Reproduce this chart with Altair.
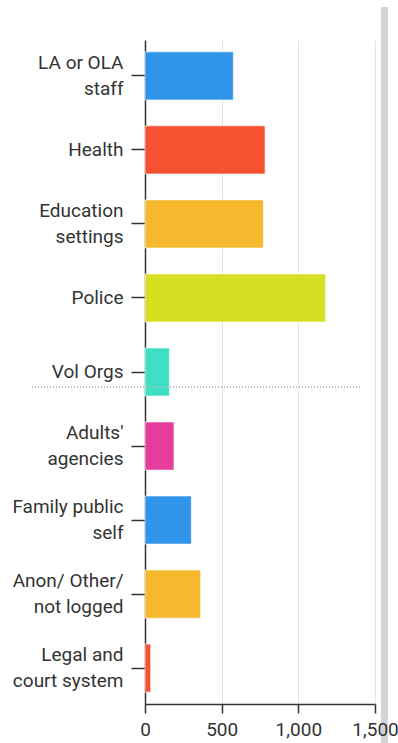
import altair as alt
import pandas as pd

categories = [
    "LA or OLA|staff",
    "Health",
    "Education|settings",
    "Police",
    "Vol Orgs",
    "Adults'|agencies",
    "Family public|self",
    "Anon/ Other/|not logged",
    "Legal and|court system",
]
values = [576, 783, 772, 1178, 159, 189, 302, 363, 37]
colors = ["#3094ea", "#f65130", "#f6b92e", "#d6df22", "#3fdfc5", "#e43d9b",
          "#3094ea", "#f6b92e", "#f65130"]
x_ticks = [0, 500, 1000, 1500]

df = pd.DataFrame({"category": categories, "value": values})
FONT = "Roboto"
FS = 19
TXT = "#333333"

xscale = alt.Scale(domain=[0, 1500], nice=False)
yscale = alt.Scale(paddingInner=0.35, paddingOuter=0.16)
yaxis = alt.Axis(title=None, grid=False,
                 domainColor="#333333", domainWidth=1.5,
                 tickColor="#333333", tickSize=14, tickWidth=1.5,
                 labelFont=FONT, labelFontSize=FS, labelColor=TXT,
                 labelPadding=8, labelLineHeight=26,
                 labelOffset={"condition": {"test": "indexof(datum.value, '|') >= 0",
                                            "value": -13},
                              "value": 0},
                 labelExpr="split(datum.label, '|')")
color = alt.Color("category:N", scale=alt.Scale(domain=categories, range=colors), legend=None)

# grid-only axis, drawn beneath the marks
grid_layer = alt.Chart(df).mark_bar(opacity=0).encode(
    x=alt.X("value:Q", scale=xscale,
            axis=alt.Axis(values=x_ticks, title=None, grid=True, gridColor="#e4e4e4",
                          gridWidth=1, labels=False, ticks=False, domain=False,
                          orient="bottom", zindex=0)),
    y=alt.Y("category:N", sort=categories, scale=yscale, axis=yaxis),
)

scroll = alt.Chart(df).mark_rule(color="#d4d4d4", strokeWidth=7).encode(
    x=alt.value(239.5), y=alt.value(-33), y2=alt.value(703)
)

bars = alt.Chart(df).mark_bar(stroke="white", strokeWidth=1, strokeOpacity=0.6).encode(
    x=alt.X("value:Q", scale=xscale,
            axis=alt.Axis(values=x_ticks, format=",.0f", title=None, grid=False,
                          domainColor="#333333", domainWidth=1.5,
                          tickColor="#333333", tickSize=9, tickWidth=1.5,
                          labelFont=FONT, labelFontSize=FS, labelColor=TXT,
                          labelPadding=7, labelFlush=False, orient="bottom", zindex=1)),
    y=alt.Y("category:N", sort=categories, scale=yscale, axis=yaxis),
    color=color,
)

hover_line = alt.Chart(df).mark_rule(color="#bbbbbb", strokeDash=[1, 2], strokeWidth=1).encode(
    x=alt.value(-113), x2=alt.value(217), y=alt.value(347)
)

chart = alt.layer(grid_layer, scroll, bars, hover_line).resolve_axis(x="independent").properties(
    width=230, height=664,
    autosize=alt.AutoSizeParams(type="none"),
    padding={"left": 145, "top": 40, "right": 23, "bottom": 39},
).configure_view(stroke=None)

chart.save("out.html", embed_options={"renderer": "svg", "actions": False})
